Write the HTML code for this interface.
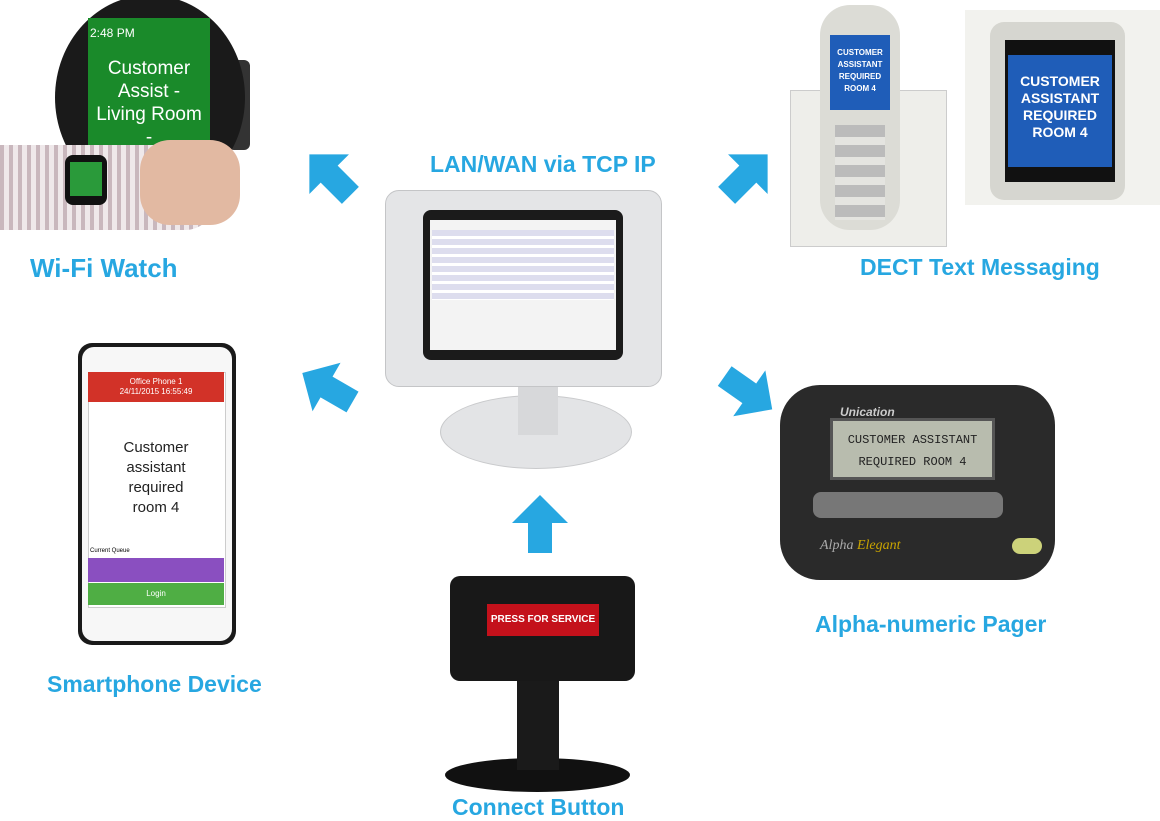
<!DOCTYPE html>
<html><head><meta charset="utf-8"><style>
body{margin:0;width:1160px;height:818px;background:#fff;position:relative;overflow:hidden;font-family:"Liberation Sans",sans-serif}
.a{position:absolute}
.lbl{position:absolute;color:#27a7e1;font-weight:bold;font-size:23px;white-space:nowrap}
</style></head><body>

<!-- Labels -->
<div class="lbl" style="left:30px;top:253px;font-size:26px">Wi-Fi Watch</div>
<div class="lbl" style="left:430px;top:151px">LAN/WAN via TCP IP</div>
<div class="lbl" style="left:860px;top:254px">DECT Text Messaging</div>
<div class="lbl" style="left:47px;top:671px">Smartphone Device</div>
<div class="lbl" style="left:815px;top:611px">Alpha-numeric Pager</div>
<div class="lbl" style="left:452px;top:794px">Connect Button</div>

<!-- Arrows -->
<svg class="a" style="left:0;top:0" width="1160" height="818">
 <g fill="#27a7e1">
  <g transform="translate(332,177) rotate(-135)"><polygon points="-26,-12 4,-12 4,-28 32,0 4,28 4,12 -26,12"/></g>
  <g transform="translate(745,177) rotate(-45)"><polygon points="-26,-12 4,-12 4,-28 32,0 4,28 4,12 -26,12"/></g>
  <g transform="translate(330,389) rotate(-150)"><polygon points="-26,-12 4,-12 4,-28 32,0 4,28 4,12 -26,12"/></g>
  <g transform="translate(746,391) rotate(35)"><polygon points="-26,-12 4,-12 4,-28 32,0 4,28 4,12 -26,12"/></g>
  <g transform="translate(540,527) rotate(-90)"><polygon points="-26,-12 4,-12 4,-28 32,0 4,28 4,12 -26,12"/></g>
 </g>
</svg>

<!-- Watch -->
<div class="a" style="left:228px;top:60px;width:22px;height:90px;background:#333;border-radius:6px"></div>
<div class="a" style="left:55px;top:-5px;width:190px;height:205px;background:#1a1a1a;border-radius:50%"></div>
<div class="a" style="left:88px;top:18px;width:122px;height:140px;background:#1a8a2a;color:#fff;text-align:center;font-size:19px;line-height:23px;overflow:hidden">
 <div style="font-size:12px;text-align:left;padding:4px 0 0 2px">2:48 PM</div>
 <div style="margin-top:12px">Customer<br>Assist -<br>Living Room<br>-</div>
</div>
<div class="a" style="left:0;top:145px;width:215px;height:85px;background:repeating-linear-gradient(90deg,#c9b7bd 0 4px,#efe8ea 4px 9px);border-radius:0 30px 30px 0"></div>
<div class="a" style="left:140px;top:140px;width:100px;height:85px;background:#e2b9a2;border-radius:30px"></div>
<div class="a" style="left:65px;top:155px;width:42px;height:50px;background:#111;border-radius:8px"></div>
<div class="a" style="left:70px;top:162px;width:32px;height:34px;background:#2a9a3a"></div>

<!-- Center kiosk -->
<div class="a" style="left:440px;top:395px;width:190px;height:72px;background:#e3e4e6;border-radius:50%;border:1px solid #c9cacc"></div>
<div class="a" style="left:518px;top:375px;width:40px;height:60px;background:#d7d8da"></div>
<div class="a" style="left:385px;top:190px;width:275px;height:195px;background:#e4e5e7;border-radius:14px;border:1px solid #c4c5c7"></div>
<div class="a" style="left:423px;top:210px;width:200px;height:150px;background:#1b1b1b;border-radius:8px"></div>
<div class="a" style="left:430px;top:220px;width:186px;height:130px;background:#f3f3f3"></div>
<div class="a" style="left:432px;top:230px;width:182px;height:70px;background:repeating-linear-gradient(180deg,#dde 0 6px,#fff 6px 9px)"></div>

<!-- DECT phones -->
<div class="a" style="left:790px;top:90px;width:155px;height:155px;background:#eeeeea;border:1px solid #ccc"></div>
<div class="a" style="left:820px;top:5px;width:80px;height:225px;background:#dcdcd6;border-radius:30px"></div>
<div class="a" style="left:830px;top:35px;width:60px;height:75px;background:#1f5db8"></div>
<div class="a" style="left:832px;top:47px;width:56px;color:#fff;font-size:8px;font-weight:bold;text-align:center;line-height:12px">CUSTOMER<br>ASSISTANT<br>REQUIRED<br>ROOM 4</div>
<div class="a" style="left:835px;top:125px;width:50px;height:95px;background:repeating-linear-gradient(180deg,#bbb 0 12px,#e4e4e0 12px 20px)"></div>
<div class="a" style="left:965px;top:10px;width:195px;height:195px;background:#f2f2ee"></div>
<div class="a" style="left:990px;top:22px;width:135px;height:178px;background:#d6d6d0;border-radius:14px"></div>
<div class="a" style="left:1005px;top:40px;width:110px;height:142px;background:#111"></div>
<div class="a" style="left:1008px;top:55px;width:104px;height:112px;background:#1f5db8;color:#fff;font-size:14px;font-weight:bold;text-align:center;line-height:17px;padding-top:18px;box-sizing:border-box">CUSTOMER<br>ASSISTANT<br>REQUIRED<br>ROOM 4</div>

<!-- Smartphone -->
<div class="a" style="left:78px;top:343px;width:158px;height:302px;background:#1a1a1a;border-radius:14px"></div>
<div class="a" style="left:82px;top:347px;width:150px;height:294px;background:#f7f7f7;border-radius:12px"></div>
<div class="a" style="left:88px;top:372px;width:136px;height:234px;background:#fff;border:1px solid #ccc"></div>
<div class="a" style="left:88px;top:372px;width:136px;height:30px;background:#d23228;color:#fff;font-size:8px;text-align:center;line-height:10px;padding-top:5px;box-sizing:border-box">Office Phone 1<br>24/11/2015 16:55:49</div>
<div class="a" style="left:88px;top:438px;width:136px;text-align:center;font-size:15px;line-height:20px;color:#222">Customer<br>assistant<br>required<br>room 4</div>
<div class="a" style="left:90px;top:548px;font-size:6px">Current Queue</div>
<div class="a" style="left:88px;top:558px;width:136px;height:24px;background:#8a4fc0"></div>
<div class="a" style="left:88px;top:583px;width:136px;height:22px;background:#4fae44;color:#fff;font-size:8px;text-align:center;line-height:22px">Login</div>

<!-- Pager -->
<div class="a" style="left:780px;top:385px;width:275px;height:195px;background:#2a2a2a;border-radius:40px"></div>
<div class="a" style="left:840px;top:405px;font-size:12px;color:#ccc;font-weight:bold;font-style:italic">Unication</div>
<div class="a" style="left:830px;top:418px;width:165px;height:62px;background:#b8bcae;border:3px solid #555;font-family:'Liberation Mono',monospace;font-size:12px;text-align:center;line-height:22px;padding-top:8px;box-sizing:border-box;color:#222">CUSTOMER ASSISTANT<br>REQUIRED ROOM 4</div>
<div class="a" style="left:813px;top:492px;width:190px;height:26px;background:#777;border-radius:8px"></div>
<div class="a" style="left:820px;top:538px;font-size:14px;color:#aaa;font-style:italic;font-family:'Liberation Serif',serif">Alpha <span style="color:#c9a400">Elegant</span></div>
<div class="a" style="left:1012px;top:538px;width:30px;height:16px;background:#ccd27a;border-radius:8px"></div>

<!-- Connect button -->
<div class="a" style="left:445px;top:758px;width:185px;height:34px;background:#111;border-radius:50%"></div>
<div class="a" style="left:517px;top:670px;width:42px;height:100px;background:#1a1a1a"></div>
<div class="a" style="left:450px;top:576px;width:185px;height:105px;background:#181818;border-radius:10px"></div>
<div class="a" style="left:487px;top:604px;width:112px;height:32px;background:#c4111b;color:#fff;font-weight:bold;font-size:10px;text-align:center;line-height:32px;white-space:nowrap">PRESS FOR SERVICE</div>

</body></html>
